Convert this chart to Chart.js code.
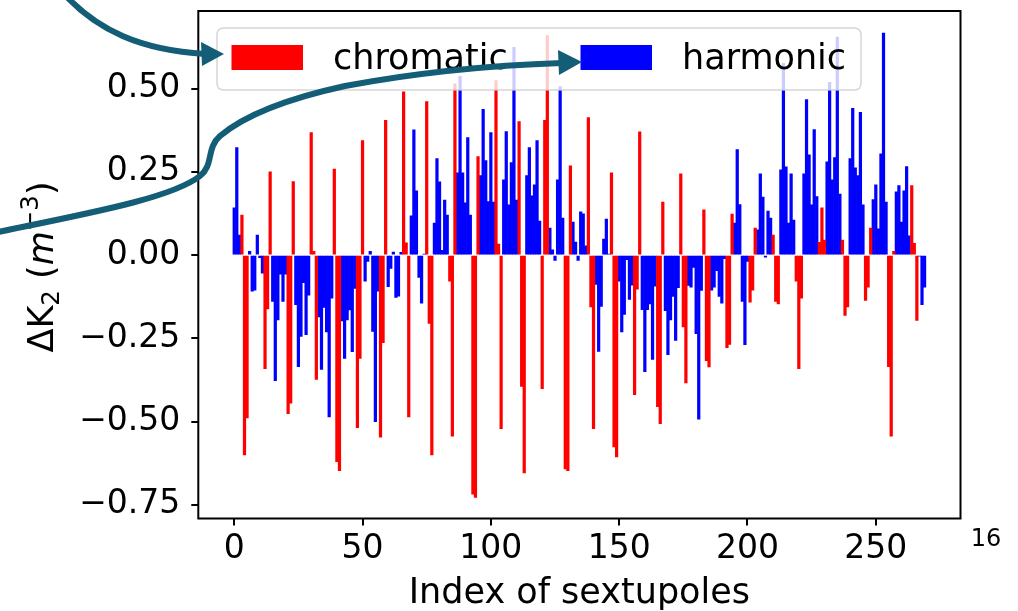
<!DOCTYPE html>
<html>
<head>
<meta charset="utf-8">
<script src="https://cdn.jsdelivr.net/npm/chart.js@4.4.0/dist/chart.umd.min.js"></script>
<style>
  body { margin: 0; background: #fff; }
  canvas { display: block; }
</style>
</head>
<body>
<canvas id="dk2-chart" width="1018" height="611"></canvas>
<script>
// Sextupole strength change per magnet, index 0..269
const dk2 = [
  0.142, 0.323, 0.060, 0.120, -0.600, -0.489, 0.011, -0.108, -0.105, 0.060,
  -0.008, -0.054, -0.341, -0.162, 0.250, -0.139, -0.377, -0.195, -0.057, -0.139,
  -0.057, -0.476, -0.445, 0.221, -0.149, -0.335, -0.244, -0.083, -0.239, -0.120,
  0.368, 0.011, -0.373, -0.186, -0.343, -0.157, -0.231, -0.486, -0.129, 0.258,
  -0.620, -0.647, -0.198, -0.310, -0.195, -0.165, -0.290, -0.100, -0.518, -0.310,
  0.344, -0.078, -0.019, 0.011, -0.229, -0.500, -0.108, -0.547, -0.263, 0.405,
  -0.095, -0.040, 0.009, -0.127, -0.123, 0.008, 0.490, 0.037, -0.486, 0.118,
  0.376, 0.193, -0.067, -0.144, 0.003, 0.461, -0.205, -0.600, 0.096, 0.290,
  0.220, 0.014, 0.165, 0.120, -0.078, -0.544, 0.514, 0.247, 0.537, 0.247,
  0.157, 0.353, 0.120, -0.718, -0.728, 0.296, 0.239, 0.438, 0.284, 0.161,
  0.368, 0.159, 0.524, 0.033, -0.521, 0.226, 0.371, 0.151, 0.278, 0.624,
  0.165, 0.401, -0.394, -0.654, 0.239, 0.323, 0.178, 0.211, 0.344, 0.102,
  -0.401, 0.405, 0.659, 0.081, 0.016, -0.016, 0.226, 0.506, 0.111, -0.642,
  -0.647, 0.268, 0.099, 0.039, -0.016, 0.130, 0.124, 0.028, 0.413, -0.156,
  -0.521, -0.088, -0.289, -0.154, 0.048, 0.108, 0.003, 0.247, -0.576, -0.606,
  -0.078, -0.231, -0.178, -0.014, -0.133, -0.090, -0.419, -0.102, 0.370, -0.164,
  -0.350, -0.164, -0.147, -0.313, -0.093, -0.455, -0.506, 0.159, -0.167, -0.299,
  -0.195, -0.124, -0.256, -0.098, 0.244, -0.216, -0.384, -0.091, -0.096, -0.037,
  -0.236, -0.493, -0.106, 0.136, -0.317, -0.336, -0.105, -0.096, -0.047, -0.124,
  -0.144, -0.011, -0.278, -0.268, 0.123, 0.096, 0.317, 0.152, -0.139, -0.269,
  -0.019, -0.141, -0.105, 0.081, 0.076, 0.244, 0.174, -0.006, 0.132, 0.111,
  0.060, -0.139, -0.147, 0.256, 0.576, 0.265, 0.096, 0.244, 0.105, -0.078,
  -0.341, -0.129, 0.244, 0.467, 0.301, 0.151, 0.377, 0.176, 0.038, 0.142,
  0.045, 0.280, 0.519, 0.226, 0.293, 0.655, 0.183, 0.045, -0.181, -0.156,
  0.290, 0.441, 0.262, 0.239, 0.429, 0.151, -0.136, -0.096, 0.081, 0.167,
  0.211, 0.079, 0.304, 0.667, 0.159, -0.335, -0.544, 0.011, 0.190, 0.209,
  0.099, 0.193, 0.266, 0.058, 0.209, 0.035, -0.196, -0.003, -0.149, -0.096
];

// c = chromatic, h = harmonic (one cell of 9 per row)
const family = [
  "hhhccchhh", "hhhccchhh", "hhhccchhh", "hhhccchhh", "hhhccchhh",
  "hhhccchhh", "hhhccchhh", "hhhccchhh", "hhhccchhh", "hhhccchhh",
  "hhhccchhh", "hhhccchhh", "hhhccchhh", "hhhccchhh", "hhhccchhh",
  "hhhccchhh", "hhhccchhh", "hhhccchhh", "hhhccchhh", "hhhccchhh",
  "hhhccchhh", "hhhccchhh", "hhhccchhh", "hhhccchhh", "hhhccchhh",
  "hhhccchhh", "hhhccchhh", "hhhccchhh", "hhhccchhh", "hhhccchhh"
].join("");

const seriesNames = ["chromatic", "harmonic"];
const seriesCodes = ["c", "h"];
const seriesColors = ["#ff0000", "#0000ff"];
const xTicks = [0, 50, 100, 150, 200, 250];
const yTicks = [-0.75, -0.5, -0.25, 0, 0.25, 0.5];

const FONT = "'DejaVu Sans', sans-serif";

function pointsFor(code) {
  const pts = [];
  dk2.forEach((v, i) => {
    if (family[i] === code) pts.push({ x: i, y: v });
  });
  return pts;
}

function fmtY(v) {
  return (v < 0 ? "\u2212" : "") + Math.abs(v).toFixed(2);
}

// keep the plot box where the layout padding puts it
function noScalePadding(s) {
  s.paddingTop = 0;
  s.paddingBottom = 0;
  s.paddingLeft = 0;
  s.paddingRight = 0;
}

// axes frame + legend drawn over the bars
const frameAndLegend = {
  id: "frameAndLegend",
  afterDatasetsDraw(chart) {
    const { ctx, chartArea: a } = chart;
    ctx.save();
    ctx.strokeStyle = "#000";
    ctx.lineWidth = 2;
    ctx.strokeRect(a.left, a.top, a.right - a.left, a.bottom - a.top);

    const bx = 217, by = 28, bw = 644, bh = 62, r = 7;
    ctx.beginPath();
    ctx.moveTo(bx + r, by);
    ctx.lineTo(bx + bw - r, by);
    ctx.quadraticCurveTo(bx + bw, by, bx + bw, by + r);
    ctx.lineTo(bx + bw, by + bh - r);
    ctx.quadraticCurveTo(bx + bw, by + bh, bx + bw - r, by + bh);
    ctx.lineTo(bx + r, by + bh);
    ctx.quadraticCurveTo(bx, by + bh, bx, by + bh - r);
    ctx.lineTo(bx, by + r);
    ctx.quadraticCurveTo(bx, by, bx + r, by);
    ctx.closePath();
    ctx.fillStyle = "rgba(255,255,255,0.8)";
    ctx.fill();
    ctx.lineWidth = 1.5;
    ctx.strokeStyle = "rgba(204,204,204,0.8)";
    ctx.stroke();

    const slots = [231.5, 580.5];
    ctx.font = "35px " + FONT;
    ctx.textBaseline = "alphabetic";
    chart.data.datasets.forEach((ds, k) => {
      ctx.fillStyle = ds.backgroundColor;
      ctx.fillRect(slots[k], 45, 71.5, 25);
      ctx.fillStyle = "#000";
      ctx.fillText(ds.label, slots[k] + 101.5, 69);
    });
    ctx.restore();
  }
};

// rotated y label with sub/superscripts, and the page number
const yTitle = {
  id: "yTitle",
  afterDraw(chart) {
    const ctx = chart.ctx;
    const parts = [
      { t: "\u0394K", f: "35px " + FONT, dy: 0 },
      { t: "2", f: "24.5px " + FONT, dy: 6 },
      { t: " (", f: "35px " + FONT, dy: 0 },
      { t: "m", f: "italic 35px " + FONT, dy: 0 },
      { t: "\u22123", f: "24.5px " + FONT, dy: -15 },
      { t: ")", f: "35px " + FONT, dy: 0 }
    ];
    ctx.save();
    let total = 0;
    parts.forEach(p => { ctx.font = p.f; p.w = ctx.measureText(p.t).width; total += p.w; });
    ctx.translate(53, 267);
    ctx.rotate(-Math.PI / 2);
    ctx.fillStyle = "#000";
    ctx.textBaseline = "alphabetic";
    let x = -total / 2;
    parts.forEach(p => {
      ctx.font = p.f;
      ctx.fillText(p.t, x, p.dy);
      x += p.w;
    });
    ctx.restore();

    ctx.save();
    ctx.font = "24px " + FONT;
    ctx.fillStyle = "#000";
    ctx.textAlign = "center";
    ctx.textBaseline = "alphabetic";
    ctx.fillText("16", 986, 546);
    ctx.restore();
  }
};

// the two curved arrows pointing at the legend entries
const arrows = {
  id: "arrows",
  afterDraw(chart) {
    const ctx = chart.ctx;
    ctx.save();
    ctx.strokeStyle = "#135d77";
    ctx.fillStyle = "#135d77";
    ctx.lineWidth = 6;

    ctx.beginPath();
    ctx.moveTo(66, -4);
    ctx.bezierCurveTo(98, 30, 140, 50, 205, 54);
    ctx.stroke();
    ctx.beginPath();
    ctx.moveTo(224, 54);
    ctx.lineTo(201, 42);
    ctx.lineTo(202, 66);
    ctx.closePath();
    ctx.fill();

    ctx.beginPath();
    ctx.moveTo(-2, 232);
    ctx.bezierCurveTo(90, 213, 172, 198, 200, 176);
    ctx.bezierCurveTo(214, 165, 206, 148, 220, 136);
    ctx.bezierCurveTo(245, 115, 290, 98, 345, 86);
    ctx.bezierCurveTo(420, 72, 500, 65, 562, 63);
    ctx.stroke();
    ctx.beginPath();
    ctx.moveTo(582, 62);
    ctx.lineTo(558, 50);
    ctx.lineTo(559, 75);
    ctx.closePath();
    ctx.fill();
    ctx.restore();
  }
};

const ctx = document.getElementById("dk2-chart").getContext("2d");
const chart = new Chart(ctx, {
  type: "bar",
  data: {
    datasets: seriesNames.map((name, k) => ({
      label: name,
      data: pointsFor(seriesCodes[k]),
      backgroundColor: seriesColors[k],
      borderWidth: 0,
      barPercentage: 1.0,
      categoryPercentage: 1.0,
      grouped: false
    }))
  },
  options: {
    responsive: false,
    animation: false,
    devicePixelRatio: 1,
    layout: { padding: { left: 0, top: 11, right: 57.5, bottom: 0 } },
    plugins: {
      legend: { display: false },
      tooltip: { enabled: false }
    },
    scales: {
      x: {
        type: "linear",
        min: -14,
        max: 283,
        offset: false,
        afterBuildTicks: s => { s.ticks = xTicks.map(v => ({ value: v })); },
        afterFit: s => { s.height = 92.5; noScalePadding(s); },
        grid: {
          offset: false,
          drawOnChartArea: false,
          drawTicks: true,
          tickLength: 7,
          lineWidth: 2,
          color: "#000"
        },
        border: { display: false },
        ticks: {
          autoSkip: false,
          maxRotation: 0,
          padding: 4,
          color: "#000",
          font: { family: FONT, size: 33 },
          callback: v => String(v)
        },
        title: {
          display: true,
          text: "Index of sextupoles",
          color: "#000",
          font: { family: FONT, size: 35, lineHeight: 1 },
          padding: { top: 0, bottom: 0 }
        }
      },
      y: {
        min: -0.791,
        max: 0.733,
        afterBuildTicks: s => { s.ticks = yTicks.map(v => ({ value: v })); },
        afterFit: s => { s.width = 198.3; noScalePadding(s); },
        grid: {
          drawOnChartArea: false,
          drawTicks: true,
          tickLength: 7,
          lineWidth: 2,
          color: "#000"
        },
        border: { display: false },
        ticks: {
          padding: 11,
          color: "#000",
          font: { family: FONT, size: 33 },
          callback: v => fmtY(v)
        }
      }
    }
  },
  plugins: [frameAndLegend, yTitle, arrows]
});
</script>
</body>
</html>
